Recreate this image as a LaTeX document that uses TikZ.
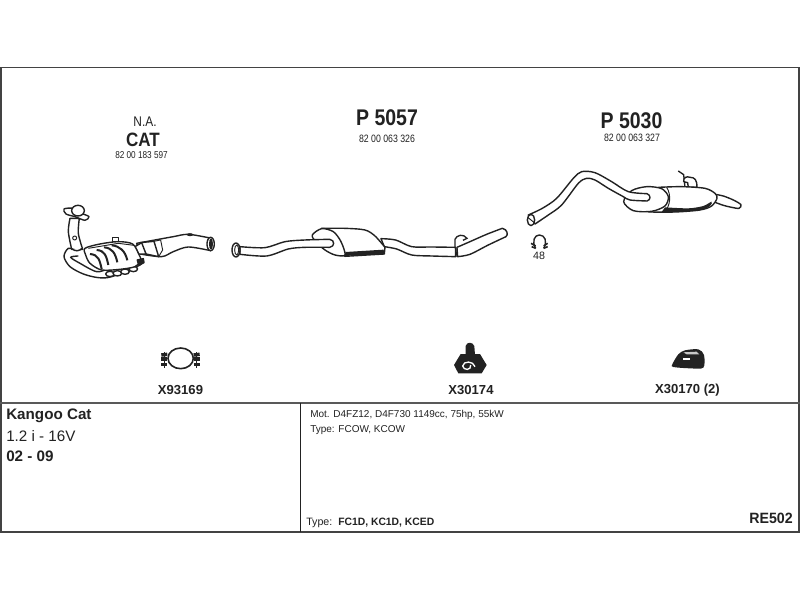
\documentclass[tikz,border=0pt]{standalone}
\usepackage{graphicx}
\usepackage{fontspec}
\setmainfont{Liberation Sans}
\definecolor{ink}{HTML}{222222}
\newcommand{\ts}[2]{\fontsize{#1}{#1}\selectfont #2}
\tikzset{
  part/.style={draw=ink,line width=1.05pt,fill=white,line join=round},
  thin part/.style={draw=ink,line width=0.7pt,line join=round},
  rule/.style={draw=#1,line width=1.2pt},
  lab/.style={text=ink,inner sep=0pt,align=left},
}
\begin{document}
\begin{tikzpicture}[x=0.75pt,y=-0.75pt]
\useasboundingbox (0,0) rectangle (800,600);
\fill[white] (0,0) rectangle (800,600);
% frame
\draw[draw=ink!85,line width=1.4pt] (0.8,67.5) rectangle (799.2,532);
\draw[rule=ink!75] (0,403) -- (800,403);
\draw[rule=ink] (300.5,403) -- (300.5,532);

% ---- catalyst
\begin{scope}[shift={(40,100)},scale=0.3333]
 % outlet pipe
 \draw[part] plot[smooth] coordinates {(290,430)(345,420)(400,410)(445,403)(510,414)}
   -- plot[smooth] coordinates {(512,452)(445,441)(400,455)(365,470)(300,462)} -- cycle;
 \draw[thin part] (450,404) ellipse (8 and 3);
 \draw[part] (512,432) ellipse (11 and 20);
 \fill[ink] (513,432) ellipse (6 and 17);
 \draw[part] (300,428) -- (342,424) -- (356,470) -- (318,462) -- cycle;
 \draw[thin part] (342,424) -- (362,420) -- (368,450) -- (356,470);
 \draw[part] (285,440) -- (305,428) -- (318,462) -- (296,462) -- cycle;
 % lower loop
 \draw[part] plot[smooth] coordinates {(110,452)(85,445)(72,470)(90,500)(130,522)(175,533)(215,530)(300,495)(305,478)(270,490)(210,505)(170,515)(120,490)(92,472)(115,468)};
 % heat shield lobes
 \foreach \a/\b in {210/522,232/520,255/515,280/507}
   \draw[part] (\a,\b) ellipse (13 and 8);
 % down pipe
 \draw[part] plot[smooth] coordinates {(90,355)(85,395)(95,448)}
   -- plot[smooth] coordinates {(128,448)(115,400)(118,355)} -- cycle;
 \draw[thin part] (104,414) circle (6);
 \draw[part] (96,446) .. controls (105,455) and (120,455) .. (128,442);
 % flange
 \draw[part] plot[smooth cycle] coordinates {(72,327)(100,325)(125,340)(147,350)(135,361)(105,350)(78,342)};
 \draw[part] (114,332) ellipse (19 and 16);
 % body
 \draw[part] (218,425) rectangle (236,412);
 \draw[part] plot[smooth cycle] coordinates {(135,445)(180,432)(235,425)(278,432)(296,462)(303,482)(285,500)(240,508)(185,510)(150,490)(137,465)};
 \draw[thin part] (145,445) -- (235,430) -- (282,436);
 \foreach \a/\b/\c in {150/462/185,170/450/205,192/442/232,215/436/262}
   \draw[draw=ink,line width=1.5pt] (\a,\b) .. controls (\a+25,\b+2) and (\c-6,\b+18) .. (\c,\b+45);
 \draw[part,fill=ink] (292,480) -- (310,476) -- (312,488) -- (296,496) -- cycle;
\end{scope}

% ---- middle silencer
\begin{scope}[shift={(225,100)},scale=0.3333]
 \draw[part] plot[smooth] coordinates {(468,416)(512,420)(560,440)(620,441)(692,442)}
   -- plot[smooth] coordinates {(692,470)(620,468)(560,465)(515,447)(478,440)} -- cycle;
 \draw[part] plot[smooth] coordinates {(696,442)(735,425)(785,403)(832,385)}
   .. controls (848,388) and (850,405) .. (843,410)
   -- plot[smooth] coordinates {(843,410)(790,435)(735,463)(698,470)} -- cycle;
 \draw[thin part] (692,442) -- (696,471);
 \draw[draw=ink,line width=1pt] (690,442) -- (690,418) .. controls (695,405) and (715,400) .. (726,415) -- (714,421);
 % body of silencer
 \draw[part] plot[smooth] coordinates {(290,385)(360,385)(420,390)(450,408)(480,442)}
   -- (478,462) -- (360,469) -- (335,440) -- cycle;
 \fill[ink] (362,456) -- (476,449) -- (478,462) -- (358,468) -- cycle;
 % front cap
 \draw[part] plot[smooth cycle] coordinates {(262,405)(290,386)(325,395)(348,425)(360,465)(330,465)(300,450)(272,425)};
 % pipe
 \draw[part] plot[smooth] coordinates {(45,440)(120,443)(180,425)(240,420)(314,418)}
  .. controls (330,420) and (330,440) .. (314,442)
  -- plot[smooth] coordinates {(314,442)(240,442)(190,447)(125,468)(45,463)} -- cycle;
 \draw[part] (33,450) ellipse (12 and 21);
 \draw[thin part,fill=white] (35,450) ellipse (6 and 15);
\end{scope}

% ---- rear silencer
\begin{scope}[shift={(515,100)},scale=0.3333]
 % bracket
 \draw[draw=ink,line width=1pt] (490,213) -- (506,224) -- (510,262);
 \draw[part] (506,245) .. controls (505,232) and (515,228) .. (525,232) .. controls (540,232) and (546,240) .. (546,262) -- (520,262) -- (518,248) -- cycle;
 % tail
 \draw[part] plot[smooth] coordinates {(600,283)(625,288)(655,300)(678,314)(672,325)(650,322)(625,316)(595,305)};
 % body
 \draw[part] plot[smooth] coordinates {(430,262)(500,260)(570,265)(600,280)(606,295)(590,318)(555,330)(480,336)(400,336)};
 \fill[ink] plot[smooth] coordinates {(450,322)(520,325)(565,318)(590,305)(585,318)(555,330)(480,336)(440,336)};
 \draw[thin part] (455,262) .. controls (470,285) and (465,318) .. (450,335);
 % front cap
 \draw[part] plot[smooth cycle] coordinates {(326,305)(350,272)(395,260)(440,266)(460,290)(450,318)(410,334)(355,332)};
 % pipe
 \draw[part] plot[smooth] coordinates {(40,345)(82,325)(125,295)(175,235)(200,215)(240,218)(290,245)(340,275)(396,281)}
  .. controls (408,285) and (408,300) .. (396,303)
  -- plot[smooth] coordinates {(396,303)(345,300)(325,290)(280,265)(240,240)(215,235)(190,250)(140,315)(100,345)(60,372)} -- cycle;
 \draw[part] (48,360) ellipse (11 and 17);
 \draw[thin part] (38,352) -- (58,368);
 % clamp 48
 \draw[part,fill=none] (62,445) .. controls (50,425) and (58,405) .. (73,405) .. controls (90,405) and (98,425) .. (86,445);
 \draw[draw=ink,line width=1.2pt] (48,430) -- (62,438) (50,440) -- (62,445) (98,430) -- (86,438) (98,440) -- (86,445);
\end{scope}

% ---- clamp X93169
\begin{scope}[shift={(140,335)},scale=0.3333]
 \draw[draw=ink,line width=1.2pt] (122,70) ellipse (38 and 31);
 \foreach \x in {73,170}{
  \draw[draw=ink,line width=2.6pt] (\x-9,60) -- (\x+9,58);
  \draw[draw=ink,line width=2.6pt] (\x-9,72) -- (\x+9,72);
  \draw[draw=ink,line width=2.6pt] (\x-9,88) -- (\x+9,88);
  \draw[draw=ink,line width=1.2pt] (\x,52) -- (\x,98);
 }
\end{scope}

% ---- bush X30174
\begin{scope}[shift={(430,330)},scale=0.3333]
 \fill[ink] (107,75) -- (107,48) .. controls (110,35) and (128,35) .. (133,48) -- (135,75) -- cycle;
 \fill[ink] (72,105) -- (92,72) -- (150,72) -- (170,105) -- (155,130) -- (85,130) -- cycle;
 \draw[white,line width=1pt] (135,110) .. controls (130,92) and (100,92) .. (98,108) .. controls (100,122) and (125,122) .. (122,105);
\end{scope}

% ---- bush X30170
\begin{scope}[shift={(640,335)},scale=0.3333]
 \fill[ink] plot[smooth cycle] coordinates {(97,88)(115,58)(135,46)(175,43)(192,60)(190,98)(150,100)(100,96)};
 \fill[white] (128,70) rectangle (150,76);
 \fill[white!75!ink] (130,52) -- (170,50) -- (178,58) -- (140,58) -- cycle;
\end{scope}

% ---- texts
\node[lab] (na) at (145,122) {\scalebox{0.85}[1]{\ts{10.5}{N.A.}}};
\node[lab] (cat) at (143,139.5) {\scalebox{0.88}[1]{\bfseries\ts{14.5}{CAT}}};
\node[lab] (cno) at (141.5,155) {\scalebox{0.82}[1]{\ts{7.5}{82 00 183 597}}};
\node[lab] (p1) at (387,118) {\scalebox{0.86}[1]{\bfseries\ts{17}{P 5057}}};
\node[lab] (p1no) at (387,139) {\scalebox{0.82}[1]{\ts{8}{82 00 063 326}}};
\node[lab] (p2) at (631.5,121) {\scalebox{0.86}[1]{\bfseries\ts{17}{P 5030}}};
\node[lab] (p2no) at (632,138) {\scalebox{0.82}[1]{\ts{8}{82 00 063 327}}};
\node[lab] (n48) at (539,256) {\ts{8}{48}};
\node[lab] (x1) at (180.5,390) {\bfseries\ts{9.8}{X93169}};
\node[lab] (x2) at (471,390) {\bfseries\ts{9.8}{X30174}};
\node[lab] (x3) at (687.5,390) {\bfseries\ts{9.8}{X30170 (2)}};
\node[lab,anchor=west] (k1) at (6,416) {\bfseries\ts{11.4}{Kangoo Cat}};
\node[lab,anchor=west] (k2) at (6,436) {\ts{11.4}{1.2 i - 16V}};
\node[lab,anchor=west] (k3) at (6,456) {\bfseries\ts{11.4}{02 - 09}};
\node[lab,anchor=west] (m1) at (310,415) {\ts{7.5}{Mot. D4FZ12, D4F730 1149cc, 75hp, 55kW}};
\node[lab,anchor=west] (m2) at (310,430) {\ts{7.5}{Type: FCOW, KCOW}};
\node[lab,anchor=west] (t1) at (306,523) {\ts{8}{Type:\ \ \bfseries\scalebox{0.97}[1]{FC1D, KC1D, KCED}}};
\node[lab,anchor=east] (re) at (793,518) {\bfseries\scalebox{0.95}[1]{\ts{11.2}{RE502}}};
\end{tikzpicture}
\end{document}
